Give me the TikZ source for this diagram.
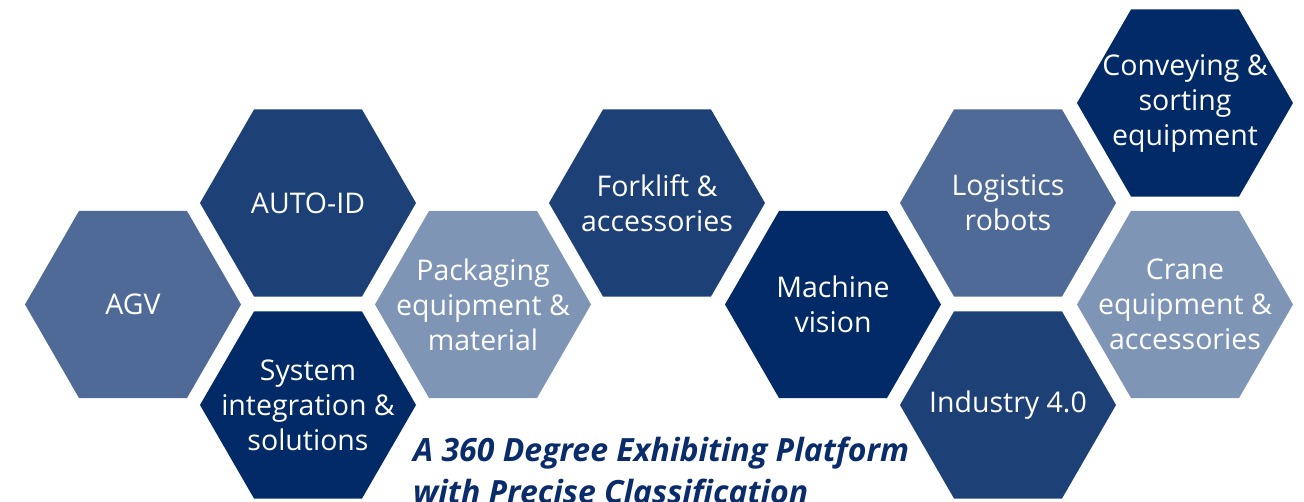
\documentclass[tikz,border=0pt]{standalone}
\usepackage{fontspec}
\setmainfont{Open Sans}
\usetikzlibrary{shapes.geometric}

\definecolor{hexmid}{HTML}{4F6A96}
\definecolor{hexdark}{HTML}{1D4076}
\definecolor{hexnavy}{HTML}{022A66}
\definecolor{hexlight}{HTML}{7F95B5}
\definecolor{claimblue}{HTML}{0A2C6B}

\begin{document}
\begin{tikzpicture}[x=1pt,y=-1pt,
  hexa/.style={regular polygon,regular polygon sides=6,minimum size=216pt,inner sep=0pt},
  hexlabel/.style={text=white,align=center,inner sep=0pt,font=\fontsize{28.5}{35}\selectfont},
  claim/.style={text=claimblue,align=left,inner sep=0pt,
    font=\fontsize{32}{42}\selectfont\bfseries\itshape}]
\useasboundingbox (0,0) rectangle (1304,502);
\clip (0,0) rectangle (1304,502);
% first row of cells
\node[hexa,fill=hexmid,label={[hexlabel]center:AGV}] (agv) at (133,304.5) {};
\node[hexa,fill=hexdark,label={[hexlabel]center:AUTO-ID}] (autoid) at (308,203) {};
\node[hexa,fill=hexnavy,label={[hexlabel]center:System\\integration \&\\solutions}] (sysint) at (308,405) {};
\node[hexa,fill=hexlight,label={[hexlabel]center:Packaging\\equipment \&\\material}] (packaging) at (483,304.5) {};
\node[hexa,fill=hexdark,label={[hexlabel]center:Forklift \&\\accessories}] (forklift) at (657,203) {};
% second row of cells
\node[hexa,fill=hexnavy,label={[hexlabel]center:Machine\\vision}] (vision) at (833,304.5) {};
\node[hexa,fill=hexmid,label={[hexlabel]center:Logistics\\robots}] (robots) at (1008,203) {};
\node[hexa,fill=hexdark,label={[hexlabel]center:Industry 4.0}] (industry) at (1008,405) {};
\node[hexa,fill=hexnavy,label={[hexlabel]center:Conveying \&\\sorting\\equipment}] (conveying) at (1185,103) {};
\node[hexa,fill=hexlight,label={[hexlabel]center:Crane\\equipment \&\\accessories}] (crane) at (1185,304.5) {};
% claim
\node[claim,anchor=base west] (slogan) at (413,503) {A 360 Degree Exhibiting Platform\\with Precise Classification};
\end{tikzpicture}
\end{document}
